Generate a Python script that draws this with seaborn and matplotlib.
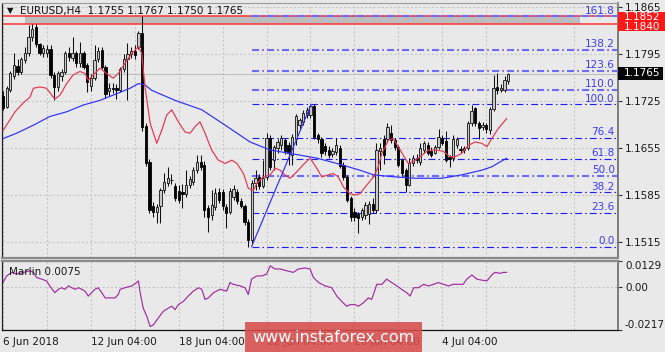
import numpy as np
import pandas as pd
import matplotlib
matplotlib.use("Agg")
import matplotlib.pyplot as plt
import seaborn as sns
from matplotlib.patches import Rectangle

# ---------------- data ----------------
opens = [1.1733, 1.1716, 1.1741, 1.1762, 1.1777, 1.1768, 1.1786, 1.1796, 1.1820, 1.1835,
         1.1810, 1.1796, 1.1796, 1.1803, 1.1764, 1.1746, 1.1762, 1.1768, 1.1797, 1.1789,
         1.1797, 1.1781, 1.1797, 1.1778, 1.1748, 1.1760, 1.1787, 1.1801, 1.1776, 1.1740,
         1.1745, 1.1744, 1.1742, 1.1772, 1.1788, 1.1795, 1.1799, 1.1805, 1.1826, 1.1688,
         1.1634, 1.1568, 1.1560, 1.1568, 1.1593, 1.1603, 1.1608, 1.1598, 1.1591, 1.1589,
         1.1586, 1.1600, 1.1604, 1.1622, 1.1634, 1.1630, 1.1565, 1.1555, 1.1567, 1.1589,
         1.1590, 1.1567, 1.1560, 1.1582, 1.1590, 1.1576, 1.1568, 1.1545, 1.1518, 1.1603,
         1.1612, 1.1599, 1.1612, 1.1670, 1.1637, 1.1655, 1.1660, 1.1667, 1.1660, 1.1645,
         1.1668, 1.1690, 1.1694, 1.1704, 1.1704, 1.1718, 1.1675, 1.1669, 1.1658, 1.1652,
         1.1646, 1.1649, 1.1655, 1.1630, 1.1612, 1.1580, 1.1560, 1.1556, 1.1553, 1.1555,
         1.1556, 1.1572, 1.1562, 1.1650, 1.1668, 1.1668, 1.1677, 1.1667, 1.1657, 1.1637,
         1.1622, 1.1600, 1.1633, 1.1640, 1.1634, 1.1652, 1.1660, 1.1650, 1.1648, 1.1657,
         1.1670, 1.1665, 1.1642, 1.1640, 1.1660, 1.1653, 1.1652, 1.1655, 1.1692, 1.1714,
         1.1692, 1.1686, 1.1690, 1.1682, 1.1713, 1.1746, 1.1742, 1.1742, 1.1755]
highs = [1.1740, 1.1748, 1.1770, 1.1796, 1.1788, 1.1790, 1.1805, 1.1838, 1.1840, 1.1840,
         1.1812, 1.1808, 1.1808, 1.1808, 1.1768, 1.1770, 1.1772, 1.1800, 1.1805, 1.1820,
         1.1800, 1.1813, 1.1799, 1.1782, 1.1765, 1.1808, 1.1806, 1.1806, 1.1779, 1.1752,
         1.1752, 1.1750, 1.1776, 1.1795, 1.1811, 1.1806, 1.1808, 1.1830, 1.1852, 1.1692,
         1.1638, 1.1575, 1.1572, 1.1596, 1.1618, 1.1627, 1.1617, 1.1603, 1.1600, 1.1602,
         1.1622, 1.1614, 1.1626, 1.1645, 1.1645, 1.1635, 1.1570, 1.1593, 1.1595, 1.1595,
         1.1594, 1.1572, 1.1595, 1.1600, 1.1594, 1.1580, 1.1572, 1.1550, 1.1608, 1.1622,
         1.1616, 1.1637, 1.1677, 1.1674, 1.1660, 1.1668, 1.1674, 1.1670, 1.1664, 1.1676,
         1.1706, 1.1700, 1.1712, 1.1716, 1.1720, 1.1720, 1.1677, 1.1672, 1.1662, 1.1658,
         1.1655, 1.1670, 1.1660, 1.1634, 1.1615, 1.1583, 1.1565, 1.1560, 1.1566, 1.1574,
         1.1576, 1.1580, 1.1662, 1.1663, 1.1675, 1.1692, 1.1690, 1.1670, 1.1660, 1.1640,
         1.1625, 1.1640, 1.1645, 1.1646, 1.1662, 1.1666, 1.1664, 1.1656, 1.1660, 1.1683,
         1.1675, 1.1681, 1.1645, 1.1674, 1.1672, 1.1658, 1.1658, 1.1695, 1.1719, 1.1716,
         1.1695, 1.1694, 1.1693, 1.1716, 1.1764, 1.1766, 1.1750, 1.1762, 1.1767]
lows = [1.1712, 1.1714, 1.1738, 1.1758, 1.1764, 1.1765, 1.1782, 1.1792, 1.1815, 1.1806,
        1.1793, 1.1790, 1.1790, 1.1760, 1.1726, 1.1740, 1.1755, 1.1765, 1.1785, 1.1785,
        1.1776, 1.1776, 1.1772, 1.1738, 1.1740, 1.1756, 1.1783, 1.1773, 1.1730, 1.1733,
        1.1737, 1.1728, 1.1738, 1.1768, 1.1726, 1.1789, 1.1788, 1.1802, 1.1680, 1.1628,
        1.1558, 1.1553, 1.1543, 1.1543, 1.1588, 1.1598, 1.1601, 1.1576, 1.1573, 1.1566,
        1.1582, 1.1596, 1.1600, 1.1618, 1.1622, 1.1552, 1.1530, 1.1548, 1.1562, 1.1573,
        1.1563, 1.1536, 1.1556, 1.1578, 1.1572, 1.1565, 1.1540, 1.1508, 1.1514, 1.1592,
        1.1594, 1.1596, 1.1608, 1.1622, 1.1622, 1.1648, 1.1652, 1.1646, 1.1630, 1.1630,
        1.1660, 1.1684, 1.1690, 1.1700, 1.1700, 1.1668, 1.1662, 1.1642, 1.1645, 1.1640,
        1.1642, 1.1645, 1.1625, 1.1608, 1.1575, 1.1547, 1.1546, 1.1528, 1.1548, 1.1550,
        1.1542, 1.1558, 1.1558, 1.1622, 1.1631, 1.1664, 1.1662, 1.1652, 1.1627, 1.1614,
        1.1590, 1.1598, 1.1628, 1.1632, 1.1630, 1.1648, 1.1644, 1.1642, 1.1646, 1.1654,
        1.1660, 1.1634, 1.1627, 1.1636, 1.1655, 1.1648, 1.1648, 1.1652, 1.1688, 1.1688,
        1.1668, 1.1682, 1.1678, 1.1676, 1.1710, 1.1736, 1.1738, 1.1738, 1.1750]
closes = [1.1715, 1.1744, 1.1766, 1.1778, 1.1768, 1.1787, 1.1797, 1.1820, 1.1833, 1.1810,
          1.1797, 1.1804, 1.1803, 1.1764, 1.1746, 1.1766, 1.1768, 1.1797, 1.1790, 1.1797,
          1.1781, 1.1797, 1.1775, 1.1753, 1.1760, 1.1786, 1.1800, 1.1776, 1.1736, 1.1745,
          1.1743, 1.1741, 1.1772, 1.1788, 1.1795, 1.1800, 1.1793, 1.1826, 1.1686, 1.1633,
          1.1563, 1.1559, 1.1567, 1.1593, 1.1604, 1.1610, 1.1607, 1.1580, 1.1577, 1.1586,
          1.1600, 1.1609, 1.1622, 1.1634, 1.1627, 1.1563, 1.1552, 1.1570, 1.1588, 1.1577,
          1.1568, 1.1558, 1.1591, 1.1594, 1.1576, 1.1568, 1.1545, 1.1518, 1.1603, 1.1610,
          1.1598, 1.1611, 1.1670, 1.1627, 1.1657, 1.1664, 1.1670, 1.1650, 1.1648, 1.1672,
          1.1702, 1.1697, 1.1707, 1.1712, 1.1718, 1.1671, 1.1669, 1.1648, 1.1650, 1.1645,
          1.1650, 1.1660, 1.1628, 1.1612, 1.1578, 1.1552, 1.1552, 1.1551, 1.1562, 1.1570,
          1.1572, 1.1562, 1.1652, 1.1655, 1.1645, 1.1686, 1.1667, 1.1657, 1.1630, 1.1618,
          1.1600, 1.1633, 1.1640, 1.1637, 1.1655, 1.1662, 1.1648, 1.1645, 1.1657, 1.1671,
          1.1663, 1.1637, 1.1638, 1.1668, 1.1668, 1.1652, 1.1655, 1.1692, 1.1710, 1.1692,
          1.1685, 1.1690, 1.1683, 1.1713, 1.1745, 1.1742, 1.1745, 1.1756, 1.1765]

# fast MA (red) sampled: bar position, price
ma_fast_bar = [0, 1.9, 3.3, 5.5, 7.4, 8.3, 10.1, 11.9, 13.7, 14.2, 15.6, 17.4, 19.2, 21.0, 22.4,
               23.3, 24.7, 26.5, 28.3, 30.1, 31.5, 33.3, 35.2, 37.0, 37.9, 38.8, 40.2, 42.0,
               43.4, 44.7, 46.1, 47.9, 49.7, 51.1, 52.5, 53.8, 55.2, 57.0, 58.8, 60.7, 62.5,
               63.9, 65.7, 67.0, 68.4, 69.3, 71.1, 73.0, 74.3, 75.7, 77.0, 78.4, 79.8, 82.0,
               83.9, 85.7, 87.1, 88.9, 90.2, 91.6, 93.0, 94.8, 96.2, 97.5, 99.4, 101.2, 102.5,
               103.5, 105.3, 106.6, 108.5, 110.7, 112.1, 113.9, 116.2, 118.5, 120.3, 122.1,
               123.5, 125.3, 127.1, 129.0, 130.8, 132.2, 133.5, 135.3, 137.6]
ma_fast_val = [1.1681, 1.1697, 1.1709, 1.1722, 1.1731, 1.1744, 1.1746, 1.1744, 1.1731, 1.1728,
               1.1734, 1.1751, 1.1764, 1.1769, 1.1766, 1.1756, 1.1764, 1.1774, 1.1766, 1.1759,
               1.1766, 1.1781, 1.1796, 1.1806, 1.1796, 1.1746, 1.1692, 1.1662, 1.1682, 1.1704,
               1.1712, 1.1694, 1.1679, 1.1677, 1.1687, 1.1694, 1.1677, 1.1652, 1.1637, 1.1632,
               1.1637, 1.1632, 1.1617, 1.1595, 1.1592, 1.1602, 1.1612, 1.1615, 1.1625, 1.1622,
               1.1615, 1.1610, 1.1617, 1.1630, 1.1640, 1.1625, 1.1612, 1.1615, 1.1617, 1.1612,
               1.1597, 1.1587, 1.1585, 1.1587, 1.1600, 1.1612, 1.1627, 1.1647, 1.1667, 1.1669,
               1.1652, 1.1632, 1.1635, 1.1642, 1.1652, 1.1652, 1.1650, 1.1642, 1.1642, 1.1647,
               1.1659, 1.1664, 1.1662, 1.1657, 1.1669, 1.1684, 1.1699]
# slow MA (blue)
ma_slow_bar = [0, 3.7, 8.3, 12.8, 17.4, 21.9, 26.5, 31.1, 34.7, 37.0, 38.8, 40.6, 47.0, 54.3,
               60.7, 67.5, 73.0, 78.4, 85.7, 91.2, 97.5, 101.2, 107.1, 112.6, 119.9, 125.3,
               130.8, 133.5, 137.6]
ma_slow_val = [1.1669, 1.1677, 1.1689, 1.1702, 1.1709, 1.1719, 1.1726, 1.1736, 1.1744, 1.1751,
               1.1749, 1.1741, 1.1726, 1.1712, 1.1689, 1.1664, 1.1652, 1.1647, 1.1640, 1.1632,
               1.1622, 1.1615, 1.1612, 1.1610, 1.1610, 1.1615, 1.1622, 1.1627, 1.1640]

# zigzag swing used for the Fibonacci grid
swing_bar = [67.9, 84.2]
swing_price = [1.1508, 1.1720]
fib_levels = [0.0, 23.6, 38.2, 50.0, 61.8, 76.4, 100.0, 110.0, 123.6, 138.2, 161.8]
fib_bold = [False, False, False, True, False, False, False, True, True, True, True]

resist_hi, resist_lo = 1.1852, 1.1840
last_price = 1.1765
price_ticks = [1.1865, 1.1795, 1.1725, 1.1655, 1.1585, 1.1515]

marlin_bar = [0, 1.0, 2.4, 3.7, 5.6, 7.4, 8.3, 9.2, 10.6, 11.9, 12.8, 13.8, 14.2, 15.1, 16.0,
              16.9, 17.9, 18.8, 19.7, 20.6, 21.5, 22.4, 23.3, 24.2, 25.1, 26.0, 27.0, 27.9,
              29.2, 30.6, 31.5, 32.0, 33.3, 35.2, 36.5, 37.0, 37.4, 38.3, 39.3, 40.2, 41.1,
              42.4, 43.8, 45.2, 46.1, 47.0, 47.9, 49.3, 50.6, 52.0, 53.4, 54.3, 55.2, 56.1,
              57.5, 59.3, 61.1, 62.0, 62.9, 64.8, 66.1, 67.0, 67.9, 69.3, 70.7, 72.0, 73.0,
              74.3, 75.7, 77.5, 79.3, 80.7, 82.5, 83.9, 84.8, 86.2, 88.0, 89.8, 91.2, 92.5,
              93.9, 94.8, 96.2, 97.1, 98.4, 99.8, 100.7, 101.2, 102.1, 103.5, 104.8, 106.2,
              107.6, 108.9, 110.3, 111.2, 112.2, 113.5, 114.9, 116.2, 117.6, 118.9, 120.3,
              121.7, 123.0, 124.4, 125.7, 126.7, 128.1, 129.4, 130.8, 132.2, 133.5, 134.4,
              135.8, 136.7, 137.6]
marlin_val = [0.0021, 0.0054, 0.0072, 0.0063, 0.0072, 0.0080, 0.0072, 0.0046, 0.0038, 0.0029,
              0.0004, -0.0022, -0.0030, -0.0013, -0.0005, -0.0013, 0.0004, -0.0005, -0.0013,
              -0.0005, -0.0013, -0.0022, -0.0047, -0.0030, -0.0013, -0.0005, -0.0030, -0.0056,
              -0.0056, -0.0056, -0.0039, -0.0013, -0.0005, 0.0004, 0.0021, 0.0029, -0.0022,
              -0.0107, -0.0149, -0.0200, -0.0191, -0.0157, -0.0123, -0.0107, -0.0098, -0.0115,
              -0.0090, -0.0073, -0.0047, -0.0022, -0.0005, -0.0013, -0.0064, -0.0056, -0.0030,
              -0.0013, -0.0022, 0.0021, 0.0012, 0.0004, -0.0005, -0.0039, 0.0038, 0.0054,
              0.0054, 0.0063, 0.0105, 0.0089, 0.0089, 0.0080, 0.0072, 0.0089, 0.0094, 0.0089,
              0.0046, 0.0021, 0.0004, -0.0005, -0.0047, -0.0073, -0.0098, -0.0090, -0.0090,
              -0.0098, -0.0081, -0.0056, -0.0064, -0.0039, 0.0012, 0.0012, 0.0038, 0.0021,
              0.0004, -0.0013, -0.0030, -0.0047, -0.0005, -0.0005, 0.0012, 0.0004, 0.0012,
              0.0021, 0.0012, 0.0004, 0.0012, 0.0012, 0.0012, 0.0038, 0.0059, 0.0038, 0.0033,
              0.0029, 0.0059, 0.0072, 0.0067, 0.0072, 0.0072]
marlin_current = 0.0075
marlin_max, marlin_min = 0.0129, -0.0217

time_tick_bars = [0, 24, 48, 72, 96, 120]
time_tick_labels = ["6 Jun 2018", "12 Jun 04:00", "18 Jun 04:00", "22 Jun 04:00",
                    "28 Jun 04:00", "4 Jul 04:00"]

# ---------------- styling ----------------
sns.set_theme(style="white")
plt.rcParams["font.family"] = ["DejaVu Sans"]
BG = "#e9e9e9"
FS = 7.5
W, H = 665, 352

fig = plt.figure(figsize=(6.65, 3.52), dpi=100, facecolor=BG)


def fr(x0, y0, x1, y1):
    return [x0 / W, 1 - y1 / H, (x1 - x0) / W, (y1 - y0) / H]


ax = fig.add_axes(fr(2, 3, 618, 258), facecolor=BG)
ax2 = fig.add_axes(fr(2, 261, 618, 330), facecolor=BG, sharex=ax)

ax.set_xlim(-0.27, 168.0)
ax.set_ylim(1.14912, 1.18710)
ax2.set_ylim(marlin_min, marlin_max)

# grids
for a in (ax, ax2):
    a.set_xticks(time_tick_bars)
    a.set_xticks(np.arange(12, 168, 24), minor=True)
    a.grid(True, which="both", axis="x", color="#c4c4c4", linestyle=(0, (2, 2)), linewidth=0.75)
    a.grid(True, which="major", axis="y", color="#c4c4c4", linestyle=(0, (2, 2)), linewidth=0.75)
    a.set_axisbelow(True)
    a.tick_params(axis="x", which="minor", length=0)

# ---- main price panel ----
ax.yaxis.tick_right()
ax.set_yticks(price_ticks)
ax.set_yticklabels([f"{v:.4f}" for v in price_ticks])
ax.tick_params(axis="y", right=True, left=False, length=3, width=0.8, color="#333333",
               labelsize=FS, labelcolor="#1a1a1a", pad=2)
ax.tick_params(axis="x", which="both", length=0, labelbottom=False)

# resistance band + lines
ax.fill_between([6, 157.5], resist_lo, resist_hi, color="#bdbdbd", zorder=1, linewidth=0)
ax.axhline(resist_hi, color="#ff3333", lw=1.1, zorder=2)
ax.axhline(resist_lo, color="#ff3333", lw=1.1, zorder=2)
ax.axhline(last_price, color="#bdbdbd", lw=0.75, zorder=1)

# Fibonacci grid
lo_p, hi_p = swing_price
for lvl, bold in zip(fib_levels, fib_bold):
    p = lo_p + (hi_p - lo_p) * lvl / 100.0
    if bold:
        ax.hlines(p, swing_bar[0], 168, colors="#6c6cff", linewidth=1.5,
                  linestyles=[(0, (3.4, 1.5, 0.8, 1.5))], zorder=2)
    else:
        ax.hlines(p, swing_bar[0], 168, colors="#1c1cff", linewidth=0.8,
                  linestyles=[(0, (6.2, 2.8, 1.4, 2.8))], zorder=2)
    ax.text(167.1, p + 0.00012, f"{lvl:.1f}", ha="right", va="bottom", fontsize=FS,
            color="#3c3cff", zorder=6)

# candles
o = np.array(opens); h = np.array(highs); l = np.array(lows); c = np.array(closes)
idx = np.arange(len(c))
up = c >= o
ax.vlines(idx, l, h, color="#111111", linewidth=0.75, zorder=3)
body_b = np.minimum(o, c)
body_h = np.maximum(np.abs(c - o), 0.00007)
ax.bar(idx[up], body_h[up], bottom=body_b[up], width=0.62, color="#c9c9c9",
       edgecolor="#111111", linewidth=0.6, zorder=4)
ax.bar(idx[~up], body_h[~up], bottom=body_b[~up], width=0.62, color="#000000",
       edgecolor="#000000", linewidth=0.6, zorder=4)

# moving averages and swing line
df_fast = pd.DataFrame({"bar": ma_fast_bar, "price": ma_fast_val})
df_slow = pd.DataFrame({"bar": ma_slow_bar, "price": ma_slow_val})
sns.lineplot(data=df_slow, x="bar", y="price", ax=ax, color="#2f2fff", linewidth=0.85, zorder=5)
sns.lineplot(data=df_fast, x="bar", y="price", ax=ax, color="#e8354f", linewidth=0.85, zorder=5)
sns.lineplot(x=swing_bar, y=swing_price, ax=ax, color="#2f2fff", linewidth=0.85, zorder=5)
ax.set_xlabel(""); ax.set_ylabel("")

ax.spines["left"].set_color("#222222"); ax.spines["left"].set_linewidth(0.9)
ax.spines["right"].set_color("#7d7d7d"); ax.spines["right"].set_linewidth(1.4)
ax.spines["top"].set_color("#9a9a9a"); ax.spines["top"].set_linewidth(0.8)
ax.spines["bottom"].set_color("#8a8a8a"); ax.spines["bottom"].set_linewidth(1.6)

# ---- Marlin panel ----
df_m = pd.DataFrame({"bar": marlin_bar, "val": marlin_val})
sns.lineplot(data=df_m, x="bar", y="val", ax=ax2, color="#a22ba2", linewidth=0.85)
ax2.set_xlabel(""); ax2.set_ylabel("")
ax2.yaxis.tick_right()
ax2.set_yticks([marlin_max, 0.0, marlin_min])
ax2.set_yticklabels([f"{marlin_max:.4f}", "0.00", f"{marlin_min:.4f}"])
ax2.tick_params(axis="y", right=True, left=False, length=3, width=0.8, color="#333333",
                labelsize=FS, labelcolor="#1a1a1a", pad=2)
labs = ax2.get_yticklabels()
labs[0].set_va("top")
labs[2].set_va("bottom")
ax2.set_xticklabels(time_tick_labels, ha="left")
ax2.tick_params(axis="x", which="major", length=3, width=0.8, color="#333333",
                labelsize=FS, labelcolor="#1a1a1a", pad=2)
ax2.spines["left"].set_color("#222222"); ax2.spines["left"].set_linewidth(0.9)
ax2.spines["bottom"].set_color("#111111"); ax2.spines["bottom"].set_linewidth(0.9)
ax2.spines["right"].set_color("#7d7d7d"); ax2.spines["right"].set_linewidth(1.4)
ax2.spines["top"].set_color("#8a8a8a"); ax2.spines["top"].set_linewidth(1.6)
ax2.text(7 / 616, 1 - 11 / 69, f"Marlin {marlin_current:.4f}", transform=ax2.transAxes,
         fontsize=FS, color="#1a1a1a", ha="left", va="center")


def fx(x):
    return x / W


def fy(y):
    return 1 - y / H


# title
fig.text(fx(7), fy(11), "\u25BC", fontsize=6, color="#111111", ha="left", va="center")
fig.text(fx(20), fy(11), "EURUSD,H4  1.1755 1.1767 1.1750 1.1765", fontsize=FS,
         color="#111111", ha="left", va="center")

# right-side price tags
fig.patches.append(Rectangle((fx(618), fy(31)), fx(665) - fx(618), fy(21) - fy(31),
                             transform=fig.transFigure, facecolor="#ff1a1a", edgecolor="none"))
fig.text(fx(624), fy(26.5), f"{resist_lo:.4f}", fontsize=FS, color="white", ha="left", va="center")
fig.patches.append(Rectangle((fx(618), fy(22.5)), fx(665) - fx(618), fy(12.5) - fy(22.5),
                             transform=fig.transFigure, facecolor="#ff1a1a", edgecolor="none",
                             zorder=2))
fig.text(fx(624), fy(17.5), f"{resist_hi:.4f}", fontsize=FS, color="white", ha="left",
         va="center", zorder=4)
fig.patches.append(Rectangle((fx(618), fy(80)), fx(663) - fx(618), fy(67) - fy(80),
                             transform=fig.transFigure, facecolor="#050505", edgecolor="none"))
fig.text(fx(624), fy(73.5), f"{last_price:.4f}", fontsize=FS, color="white", ha="left", va="center")

# watermark
fig.patches.append(Rectangle((fx(245), fy(352)), fx(422) - fx(245), fy(322) - fy(352),
                             transform=fig.transFigure, facecolor="#d94c4c", alpha=0.88,
                             edgecolor="none", zorder=5))
fig.text(fx(333), fy(338), "www.instaforex.com", fontsize=11.5, color="white",
         ha="center", va="center", zorder=6)

fig.savefig("out.png", dpi=100, facecolor=BG)
